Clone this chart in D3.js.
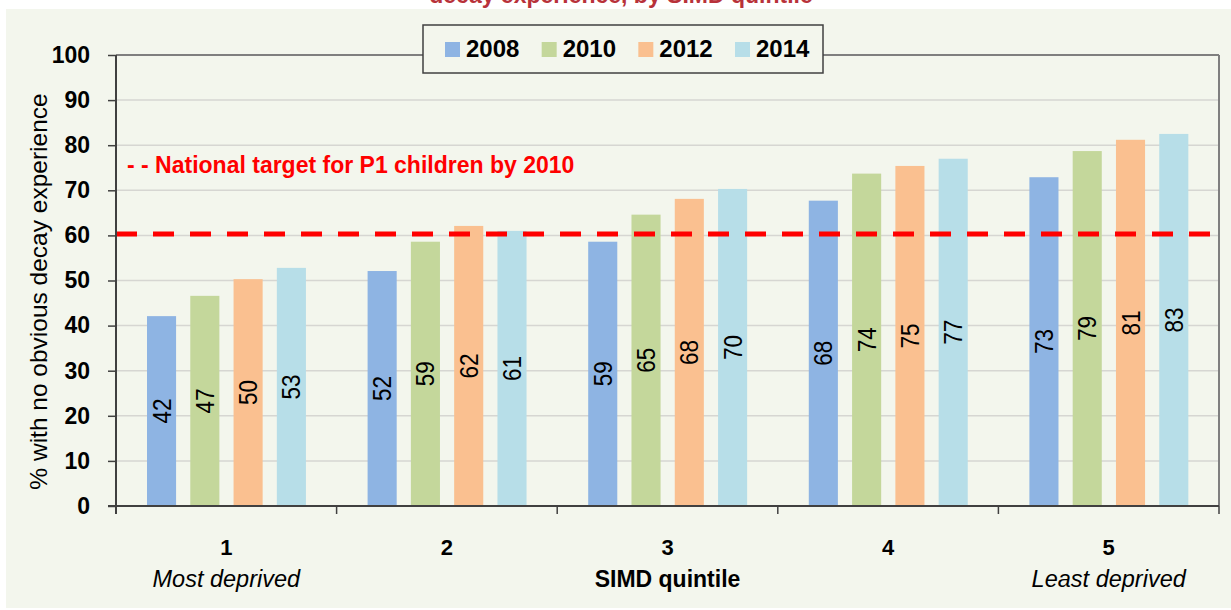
<!DOCTYPE html>
<html><head><meta charset="utf-8">
<script src="https://cdn.jsdelivr.net/npm/d3@7"></script>
<style>body{margin:0;background:#fff}svg{display:block}text{font-family:"Liberation Sans",Arial,sans-serif}</style>
</head><body>
<svg id="c" width="1231" height="610"></svg>
<script>
const categories = ["1","2","3","4","5"];
const categorySub = ["Most deprived","","","","Least deprived"];
const years = ["2008","2010","2012","2014"];
const v2008 = [42.1, 52.1, 58.6, 67.7, 72.9];
const v2010 = [46.6, 58.6, 64.6, 73.7, 78.7];
const v2012 = [50.3, 62.1, 68.1, 75.4, 81.2];
const v2014 = [52.8, 61.0, 70.3, 77.0, 82.5];
const yTicks = [0,10,20,30,40,50,60,70,80,90,100];
const target = 60.3;
const colors = ["#8eb4e3","#c4d79b","#fac090","#b7dee8"];
const titleText = "decay experience, by SIMD quintile";
const targetLabel = "- - National target for P1 children by 2010";
const yTitle = "% with no obvious decay experience";
const xTitle = "SIMD quintile";

const series = [v2008, v2010, v2012, v2014];
const svg = d3.select("#c");
const L = 116, R = 1219, T = 55, B = 506;

svg.append("rect").attr("x",6).attr("y",9).attr("width",1225).attr("height",599).attr("fill","#f3f6ed");

svg.append("text").attr("x",621).attr("y",3).attr("text-anchor","middle")
  .attr("font-size",23).attr("font-weight","bold").attr("fill","#b8323a").text(titleText);

const x = d3.scaleBand().domain(categories).range([L,R]).padding(0);
const bw = x.bandwidth();
const xi = d3.scaleBand().domain(years).range([bw*0.1405, bw*0.861]).paddingInner(0.328).paddingOuter(0);
const y = d3.scaleLinear().domain([0,100]).range([B,T]);

// gridlines
svg.append("g").selectAll("line").data(yTicks.filter(t=>t>0&&t<100)).join("line")
  .attr("x1",L).attr("x2",R).attr("y1",d=>y(d)).attr("y2",d=>y(d))
  .attr("stroke","#d6d6d2").attr("stroke-width",1.5);
// top & right border
svg.append("line").attr("x1",L).attr("x2",R).attr("y1",y(100)).attr("y2",y(100)).attr("stroke","#7f7f7f").attr("stroke-width",2);
svg.append("line").attr("x1",R).attr("x2",R).attr("y1",y(100)).attr("y2",B).attr("stroke","#7f7f7f").attr("stroke-width",2);

// bars
const g = svg.append("g").selectAll("g").data(categories).join("g")
  .attr("transform",d=>`translate(${x(d)},0)`);
g.selectAll("rect").data((d,i)=>years.map((yr,j)=>({yr,v:series[j][i]}))).join("rect")
  .attr("x",d=>xi(d.yr)).attr("width",xi.bandwidth())
  .attr("y",d=>y(d.v)).attr("height",d=>B-y(d.v))
  .attr("fill",(d,j)=>colors[j]);
g.selectAll("text").data((d,i)=>years.map((yr,j)=>({yr,v:series[j][i]}))).join("text")
  .attr("transform",d=>`translate(${xi(d.yr)+xi.bandwidth()/2+9},${(y(d.v)+B)/2}) rotate(-90) scale(0.9,1)`)
  .attr("text-anchor","middle").attr("font-size",25).attr("fill","#000")
  .text(d=>Math.round(d.v));

// target line
svg.append("line").attr("x1",L).attr("x2",R).attr("y1",y(target)).attr("y2",y(target))
  .attr("stroke","#ff0000").attr("stroke-width",5).attr("stroke-dasharray","21,16");
svg.append("text").attr("x",127).attr("y",173).attr("font-size",23).attr("font-weight","bold")
  .attr("fill","#ff0000").text(targetLabel);

// y axis
const ya = svg.append("g").attr("transform",`translate(${L},0)`)
  .call(d3.axisLeft(y).tickValues(yTicks).tickSize(8).tickPadding(18));
ya.select(".domain").attr("d",`M0,${T}V${B+8}`).attr("stroke","#404040").attr("stroke-width",2);
ya.selectAll(".tick line").attr("stroke","#404040").attr("stroke-width",1.5);
ya.selectAll(".tick text").attr("font-size",23).attr("font-weight","bold").attr("fill","#000")
  .attr("font-family","Liberation Sans, Arial, sans-serif");

// x axis
const xa = svg.append("g").attr("transform",`translate(0,${B})`);
xa.append("line").attr("x1",L-8).attr("x2",R).attr("y1",0).attr("y2",0).attr("stroke","#404040").attr("stroke-width",2);
xa.selectAll("line.t").data(categories.map(c=>x(c)).concat([R])).join("line").attr("class","t")
  .attr("x1",d=>d).attr("x2",d=>d).attr("y1",0).attr("y2",8).attr("stroke","#404040").attr("stroke-width",1.5);
xa.selectAll("text.c").data(categories).join("text").attr("class","c")
  .attr("x",d=>x(d)+bw/2).attr("y",49).attr("text-anchor","middle")
  .attr("font-size",22).attr("font-weight","bold").text(d=>d);
xa.selectAll("text.s").data(categories).join("text").attr("class","s")
  .attr("x",(d)=>x(d)+bw/2).attr("y",81).attr("text-anchor","middle")
  .attr("font-size",23.5).attr("font-style","italic").text((d,i)=>categorySub[i]);
svg.append("text").attr("x",(L+R)/2).attr("y",587).attr("text-anchor","middle")
  .attr("font-size",23).attr("font-weight","bold").text(xTitle);

// y title
svg.append("text").attr("transform",`translate(47,${(T+B)/2+11}) rotate(-90)`).attr("text-anchor","middle")
  .attr("font-size",24.5).text(yTitle);

// legend
const lg = svg.append("g");
lg.append("rect").attr("x",423).attr("y",25).attr("width",400).attr("height",48)
  .attr("fill","#f3f6ed").attr("stroke","#404040").attr("stroke-width",1.5);
const lx = d3.scalePoint().domain(years).range([445,735]);
lg.selectAll("rect.k").data(years).join("rect").attr("class","k")
  .attr("x",d=>lx(d)).attr("y",42).attr("width",15).attr("height",15).attr("fill",(d,i)=>colors[i]);
lg.selectAll("text").data(years).join("text")
  .attr("x",d=>lx(d)+21).attr("y",57).attr("font-size",24).attr("font-weight","bold").text(d=>d);
</script>
</body></html>
